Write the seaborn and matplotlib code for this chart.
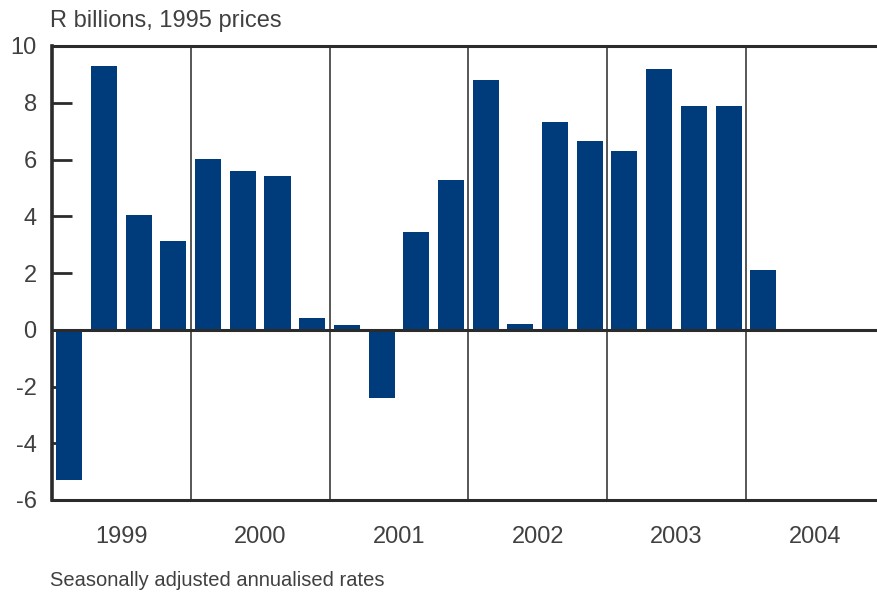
import matplotlib
matplotlib.use("Agg")
import matplotlib.pyplot as plt
import seaborn as sns
import pandas as pd

years = ["1999", "2000", "2001", "2002", "2003", "2004"]
quarters = ["1999Q1", "1999Q2", "1999Q3", "1999Q4",
            "2000Q1", "2000Q2", "2000Q3", "2000Q4",
            "2001Q1", "2001Q2", "2001Q3", "2001Q4",
            "2002Q1", "2002Q2", "2002Q3", "2002Q4",
            "2003Q1", "2003Q2", "2003Q3", "2003Q4",
            "2004Q1"]
values = [-5.3, 9.3, 4.05, 3.13,
          6.02, 5.6, 5.42, 0.42,
          0.18, -2.4, 3.45, 5.28,
          8.8, 0.2, 7.32, 6.65,
          6.3, 9.19, 7.89, 7.89,
          2.11]
yticks = [10, 8, 6, 4, 2, 0, -2, -4, -6]

sns.set_theme(style="white")
plt.rcParams['font.family'] = ['Liberation Sans', 'DejaVu Sans']

df = pd.DataFrame({"quarter": quarters, "value": values})

fig = plt.figure(figsize=(8.77, 5.95), dpi=100)
ax = fig.add_axes([52/877, 95/595, 1 - 52/877, 454/595])

sns.barplot(data=df, x="quarter", y="value", order=quarters, color="#003C7B",
            saturation=1, width=0.75, ax=ax, edgecolor="none", linewidth=0)

dark = "#2b2b2b"
txt = "#404040"
ax.set_xlim(-0.5, 23.28)
ax.set_ylim(-6, 10)

for k in range(1, 6):
    ax.axvline(4 * k - 0.5, color="#3a3a3a", lw=1.2, zorder=0)
ax.axhline(0, color=dark, lw=2.2, zorder=3)

for side in ["left", "top", "bottom"]:
    ax.spines[side].set_visible(True)
    ax.spines[side].set_color(dark)
ax.spines["left"].set_linewidth(2.6)
ax.spines["top"].set_linewidth(2.2)
ax.spines["bottom"].set_linewidth(2.2)
ax.spines["right"].set_visible(False)

ax.set_yticks(yticks)
ax.set_yticklabels([str(t) for t in yticks])
ax.tick_params(axis="y", direction="in", length=14.5, width=2, color=dark,
               pad=11, labelsize=17, labelcolor=txt, left=True)

ax.set_xticks([4 * i + 1.5 for i in range(len(years))])
ax.set_xticklabels(years)
ax.tick_params(axis="x", length=0, pad=19, labelsize=17, labelcolor=txt)

ax.set_xlabel("")
ax.set_ylabel("")

fig.text(50/877, 1 - 21/595, "R billions, 1995 prices", ha="left", va="center",
         fontsize=17, color=txt)
fig.text(50/877, 1 - 581/595, "Seasonally adjusted annualised rates", ha="left",
         va="center", fontsize=14.5, color=txt)

fig.savefig("out.png", dpi=100)
